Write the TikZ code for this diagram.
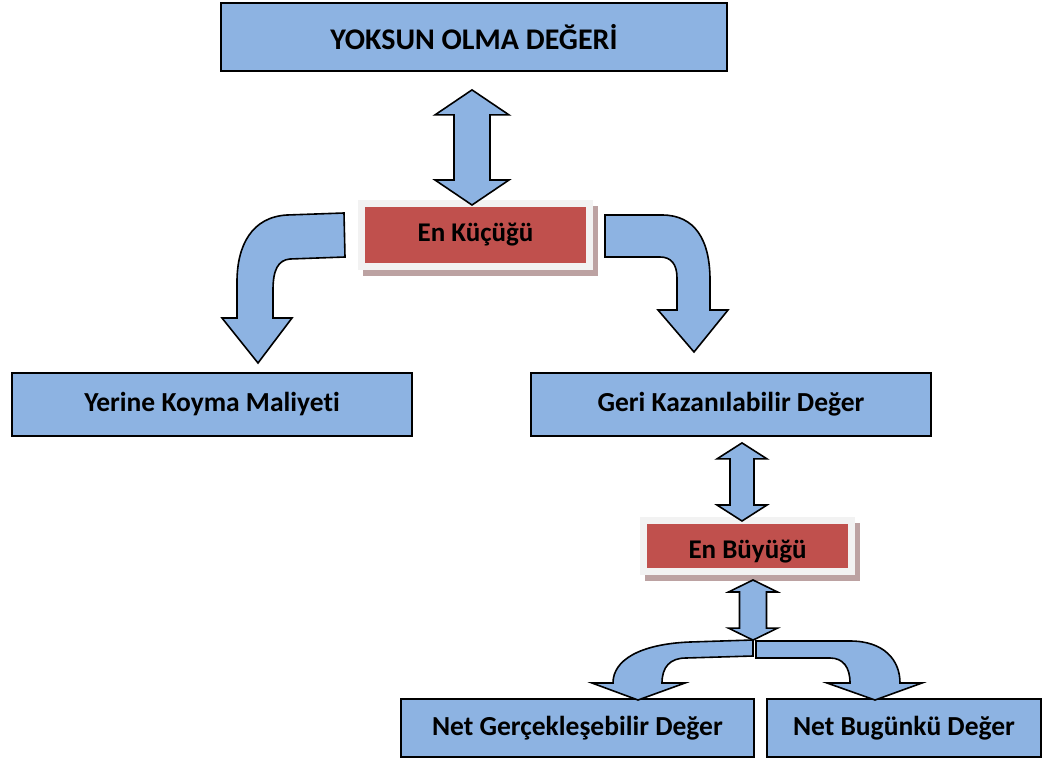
\documentclass[tikz,border=0pt]{standalone}
\usepackage{fontspec}
\setmainfont{Carlito}[Ligatures={NoCommon}]
\usetikzlibrary{calc,shadows}
\definecolor{kutumavi}{HTML}{8DB3E2}
\definecolor{kutukirmizi}{HTML}{C0504D}
\definecolor{kenargri}{HTML}{F2F2F2}
\definecolor{golge}{HTML}{BCA2A2}
\tikzset{
	kutu/.style={draw=black, line width=1.8pt, fill=kutumavi, inner sep=0pt, font=\bfseries\fontsize{27.5}{32}\selectfont},
	kirmizikutu/.style={draw=kenargri, line width=7pt, fill=kutukirmizi, inner sep=0pt,
		general shadow={fill=golge, draw=golge, line width=7pt, shadow xshift=5pt, shadow yshift=-6pt},
		font=\bfseries\fontsize{27}{32}\selectfont},
	blokok/.style={draw=black, line width=1.6pt, fill=kutumavi, line join=miter}
}
% cift yonlu blok ok: ust uc, alt uc, govde yari genislik, bas yari genislik, bas boyu
\newcommand{\ciftok}[5]{%
	\draw[blokok] let \p1=(#1), \p2=(#2) in
		(\x1,\y1) -- (\x1+#4pt,\y1-#5pt) -- (\x1+#3pt,\y1-#5pt) -- (\x1+#3pt,\y2+#5pt) -- (\x1+#4pt,\y2+#5pt)
		-- (\x1,\y2) -- (\x1-#4pt,\y2+#5pt) -- (\x1-#3pt,\y2+#5pt) -- (\x1-#3pt,\y1-#5pt) -- (\x1-#4pt,\y1-#5pt) -- cycle;}

\begin{document}
\begin{tikzpicture}[x=1pt,y=-1pt]
	\useasboundingbox (0,0) rectangle (1047,763);

	\node[kutu, minimum width=506pt, minimum height=68pt, font=\bfseries\fontsize{30}{34}\selectfont] (yoksun) at (474,37) {YOKSUN OLMA DEĞERİ};

	\node[kirmizikutu, minimum width=228pt, minimum height=63pt] (kucuk) at (475.5,235) {En Küçüğü};

	\node[kutu, minimum width=400pt, minimum height=63pt] (yerine) at (212,404.5) {Yerine Koyma Maliyeti};
	\node[kutu, minimum width=400pt, minimum height=63pt] (geri) at (731,404.5) {Geri Kazanılabilir Değer};

	\node[kirmizikutu, minimum width=208pt, minimum height=51pt] (buyuk) at (747.5,546) {};
	\begin{scope}
		\clip (640,517) rectangle (855,562);
		\node[anchor=base, font=\bfseries\fontsize{27}{32}\selectfont] (buyukyazi) at (747.5,558) {En Büyüğü};
	\end{scope}

	\node[kutu, minimum width=353pt, minimum height=58pt] (netgercek) at (577.5,728) {Net Gerçekleşebilir Değer};
	\node[kutu, minimum width=274pt, minimum height=58pt] (netbugun) at (904,728) {Net Bugünkü Değer};

	\coordinate (u1) at ($(yoksun.south)+(-2,18)$);
	\coordinate (d1) at ($(u1 |- kucuk.north)+(0,5)$);
	\ciftok{u1}{d1}{18}{37}{25}

	\coordinate (u2) at ($(geri.south)+(11,6)$);
	\coordinate (d2) at ($(u2 |- buyuk.north)+(0,4)$);
	\ciftok{u2}{d2}{12}{25}{16}

	\coordinate (u3) at ($(buyuk.south)+(5.5,5)$);
	\coordinate (d3) at ($(u3 |- netgercek.north)+(0,-58)$);
	\ciftok{u3}{d3}{13.5}{24.5}{12}

	% kavisli oklar
	\draw[blokok] (344,213) -- (287,215) .. controls (252,217) and (237,245) .. (237,282) -- (237,318) -- (222,318) -- (258,363)
		-- (292,318) -- (273,318) -- (273,290) .. controls (273,270) and (278,260) .. (290,259) -- (345,257) -- cycle;
	\draw[blokok] (605,215) -- (662,215) .. controls (695,215) and (710,240) .. (710,280) -- (710,310) -- (728,310) -- (694,352)
		-- (658,310) -- (677,310) -- (677,278) .. controls (677,264) and (671,257) .. (660,257) -- (605,257) -- cycle;

	% ayrilan ok
	\draw[blokok] (753,640) -- (690,642) .. controls (640,644) and (613,660) .. (613,683) -- (592,683) -- (638,700)
		-- (685,683) -- (662,683) .. controls (662,667) and (670,658) .. (686,658) -- (753,656) -- cycle;
	\draw[blokok] (756,641) -- (850,641) .. controls (884,641) and (900,660) .. (900,683) -- (922,683) -- (875,700)
		-- (827,683) -- (850,683) .. controls (850,667) and (843,658) .. (830,658) -- (756,658) -- cycle;
\end{tikzpicture}
\end{document}
